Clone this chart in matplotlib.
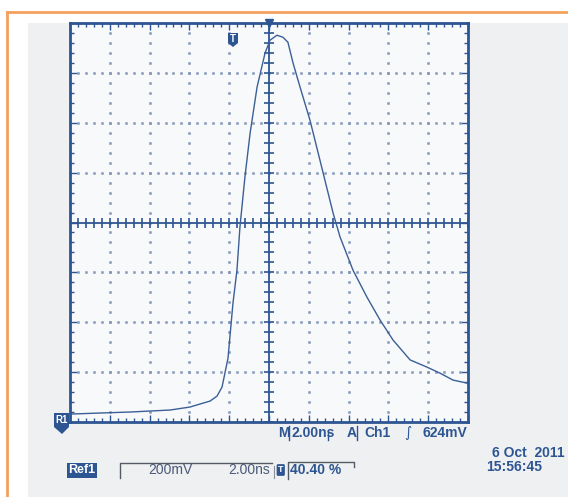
import numpy as np
import matplotlib
matplotlib.use("Agg")
import matplotlib.pyplot as plt
from matplotlib.patches import Rectangle, Polygon
from matplotlib.lines import Line2D

# trace: time in ns (centre = 0), voltage in mV above R1
t_ns = [-9.90, -8.49, -6.98, -5.98, -4.97, -3.97, -3.47, -2.96, -2.61, -2.36,
        -2.06, -1.81, -1.61, -1.46, -1.21, -0.95, -0.60, -0.20, 0.05, 0.40,
        0.70, 0.95, 1.21, 1.56, 2.06, 2.56, 3.22, 3.57, 4.22, 4.92,
        5.58, 6.23, 7.09, 7.94, 8.59, 9.25, 9.95]
v_mv = [32, 36, 40, 44, 48, 60, 72, 84, 104, 140,
        256, 477, 609, 782, 982, 1158, 1343, 1479, 1531, 1551,
        1543, 1523, 1439, 1343, 1210, 1050, 838, 742, 609, 501,
        409, 329, 249, 220, 196, 168, 156]

ns_per_div = 2.0
mv_per_div = 200
n_xdiv, n_ydiv = 10, 8

status_items = ["M", "2.00ns", "A", "Ch1", "624mV"]
ref_label = "Ref1"
ref_scale = ["200mV", "2.00ns"]
trig_pos = "40.40 %"
date_str = "6 Oct  2011"
time_str = "15:56:45"

W, H = 568, 497
BLUE = "#2d5592"
TRACE = "#3b5f96"
GRIDC = "#8396b8"

plt.rcParams['font.family'] = ['Liberation Sans', 'DejaVu Sans']

fig = plt.figure(figsize=(W / 100, H / 100), dpi=100)
fig.patch.set_facecolor("white")


def fx(x):
    return x / W


def fy(y):
    return 1 - y / H


def ftext(x, y, s, **kw):
    kw.setdefault("color", BLUE)
    kw.setdefault("fontsize", 10)
    kw.setdefault("fontweight", "bold")
    kw.setdefault("va", "center")
    fig.text(fx(x), fy(y), s, **kw)


def fline(xs, ys, **kw):
    fig.add_artist(Line2D([fx(v) for v in xs], [fy(v) for v in ys],
                          transform=fig.transFigure, **kw))


# page frame: orange rule + grey scan panel
fig.add_artist(Rectangle((fx(28), 0), 1 - fx(28), fy(23), transform=fig.transFigure,
                         facecolor="#eff0f2", edgecolor="none", zorder=0))
fline([7, 568], [12, 12], color="#f4a15c", lw=2)
fline([7, 7], [12, 497], color="#f4a15c", lw=2)

# scope graticule
x0, x1, y0, y1 = 70, 468, 23, 422
ax = fig.add_axes([fx(x0), fy(y1), fx(x1) - fx(x0), fy(y0) - fy(y1)])
ax.set_facecolor("#f8f9fb")
half_t = n_xdiv / 2 * ns_per_div
ax.set_xlim(-half_t, half_t)
ax.set_ylim(0, n_ydiv * mv_per_div)

minor_t = ns_per_div / 5
minor_v = mv_per_div / 5
major_t = np.arange(-half_t, half_t + 0.01, ns_per_div)
major_v = np.arange(0, n_ydiv * mv_per_div + 1, mv_per_div)
minor_ts = np.arange(-half_t, half_t + 0.01, minor_t)
minor_vs = np.arange(0, n_ydiv * mv_per_div + 1, minor_v)

ax.set_xticks(major_t)
ax.set_yticks(major_v)
ax.set_xticks(minor_ts, minor=True)
ax.set_yticks(minor_vs, minor=True)
ax.tick_params(which="both", direction="in", top=True, right=True,
               labelbottom=False, labelleft=False, color=BLUE, width=1)
ax.tick_params(which="major", length=5)
ax.tick_params(which="minor", length=3)
for sp in ax.spines.values():
    sp.set_color(BLUE)
    sp.set_linewidth(2)

mid_v = n_ydiv * mv_per_div / 2
# dotted grid
for t in major_t[1:-1]:
    if t == 0:
        continue
    ax.plot(np.full(len(minor_vs), t), minor_vs, ls="none", marker="s", ms=1.1,
            color=GRIDC, alpha=0.75)
for v in major_v[1:-1]:
    if v == mid_v:
        continue
    ax.plot(minor_ts, np.full(len(minor_ts), v), ls="none", marker="s", ms=1.1,
            color=GRIDC, alpha=0.75)

# centre crosshair with minor ticks
ax.axvline(0, color=BLUE, lw=1.3)
ax.axhline(mid_v, color=BLUE, lw=1.3)
ax.plot(np.zeros(len(minor_vs)), minor_vs, ls="none", marker="_", ms=7, mew=1.2, color=BLUE)
ax.plot(minor_ts, np.full(len(minor_ts), mid_v), ls="none", marker="|", ms=7, mew=1.2, color=BLUE)

# the trace
ax.plot(t_ns, v_mv, color=TRACE, lw=1.0)

# trigger position marker on top edge
ax.plot([0], [n_ydiv * mv_per_div], marker="v", ms=6, color=BLUE, clip_on=False, zorder=5)

# "T" tag
fig.add_artist(Polygon([(fx(228), fy(33)), (fx(238), fy(33)), (fx(238), fy(43)),
                        (fx(233), fy(47)), (fx(228), fy(43))],
                       transform=fig.transFigure, facecolor=BLUE, edgecolor="none"))
ftext(233, 39, "T", color="white", fontsize=7, ha="center")

# "R1" tag at left
fig.add_artist(Polygon([(fx(54), fy(413)), (fx(69), fy(413)), (fx(69), fy(427)),
                        (fx(62), fy(434)), (fx(54), fy(427))],
                       transform=fig.transFigure, facecolor=BLUE, edgecolor="none"))
ftext(61.5, 420, "R1", color="white", fontsize=7, ha="center")

# status line under graticule
ftext(278, 433, status_items[0])
fline([289, 289], [426, 440], color=BLUE, lw=1)
ftext(291, 433, status_items[1])
fline([328, 328], [432, 440], color=BLUE, lw=1)
ftext(347, 433, status_items[2])
fline([357, 357], [426, 440], color=BLUE, lw=1)
ftext(364, 433, status_items[3])
ftext(404, 433, "\u222b", fontsize=10, fontweight="normal", family="DejaVu Sans")
ftext(467, 433, status_items[4], ha="right")

# reference info line
fig.text(fx(68), fy(470), ref_label, color="white", fontsize=9, fontweight="bold",
         va="center", bbox=dict(boxstyle="square,pad=0.12", facecolor=BLUE, edgecolor="none"))
fline([120, 120, 272], [478, 463, 463], color="#555b66", lw=1)
ftext(148, 470, ref_scale[0], color="#4a5a78", fontweight="normal")
ftext(228, 470, ref_scale[1], color="#4a5a78", fontweight="normal")
fline([274, 274], [466, 478], color="#8a909a", lw=0.8)
fig.text(fx(278), fy(470), "T", color="white", fontsize=6.5, fontweight="bold", va="center",
         bbox=dict(boxstyle="round,pad=0.15", facecolor=BLUE, edgecolor="none"))
fline([288, 288, 354, 354], [479, 462, 462, 467], color="#555b66", lw=1)
ftext(290, 470, trig_pos)

ftext(565, 453, date_str, fontsize=10, ha="right")
ftext(486, 467, time_str, fontsize=10)

fig.savefig("out.png", dpi=100)
